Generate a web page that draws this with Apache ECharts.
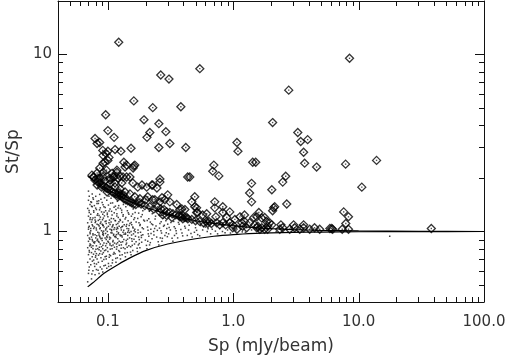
<!DOCTYPE html>
<html>
<head>
<meta charset="utf-8">
<script src="https://cdn.jsdelivr.net/npm/echarts/dist/echarts.min.js"></script>
<style>
html, body { margin: 0; padding: 0; background: #fff; }
#chart { width: 508px; height: 355px; }
</style>
</head>
<body>
<div id="chart"></div>
<script>
// tick positions
var xMajor = [0.1, 1, 10, 100];
var xMinor = [0.05, 0.06, 0.07, 0.08, 0.09, 0.2, 0.3, 0.4, 0.5, 0.6, 0.7, 0.8, 0.9,
              2, 3, 4, 5, 6, 7, 8, 9, 20, 30, 40, 50, 60, 70, 80, 90];
var yMajor = [1, 10];
var yMinor = [0.5, 0.6, 0.7, 0.8, 0.9, 2, 3, 4, 5, 6, 7, 8, 9];

// envelope curves
var upperCurve = [[0.069, 2.05], [0.075, 1.97], [0.08, 1.9], [0.09, 1.8], [0.1, 1.72], [0.12, 1.6],
                  [0.15, 1.48], [0.2, 1.37], [0.3, 1.25], [0.5, 1.15], [0.7, 1.11], [1.0, 1.075],
                  [1.5, 1.05], [2, 1.037], [3, 1.025], [5, 1.015], [10, 1.008], [30, 1.003], [100, 1.0]];
var lowerCurve = [[0.069, 0.487], [0.075, 0.51], [0.08, 0.53], [0.09, 0.57], [0.1, 0.6], [0.12, 0.65],
                  [0.15, 0.71], [0.2, 0.78], [0.3, 0.85], [0.5, 0.91], [0.7, 0.94], [1.0, 0.96],
                  [1.5, 0.975], [2, 0.982], [3, 0.988], [5, 0.993], [10, 0.997], [30, 0.999], [100, 1.0]];

// resolved sources (diamonds)
var diamonds = [
  [0.122, 11.7], [0.264, 7.64], [0.307, 7.25], [0.541, 8.3], [0.096, 4.56], [0.161, 5.46], [0.228, 5.0],
  [0.382, 5.06], [0.194, 4.27], [0.255, 4.06], [0.1, 3.71], [0.216, 3.62], [0.205, 3.4], [0.29, 3.66],
  [0.112, 3.4], [0.079, 3.35], [0.086, 3.18], [0.082, 3.14], [0.312, 3.14], [0.418, 2.98], [0.255, 2.98],
  [0.153, 2.95], [0.127, 2.84], [0.114, 2.9], [0.1, 2.84], [1.07, 3.18], [1.09, 2.84], [0.70, 2.37],
  [0.686, 2.19], [0.767, 2.06], [0.433, 2.03], [0.45, 2.03], [1.43, 2.46], [0.134, 2.46], [0.161, 2.34],
  [0.137, 2.31], [8.46, 9.5], [2.77, 6.28], [2.06, 4.12], [3.27, 3.62], [3.45, 3.22], [3.92, 3.3],
  [3.64, 2.8], [1.51, 2.46], [3.71, 2.43], [4.62, 2.31], [7.87, 2.4], [13.9, 2.52], [2.62, 2.05],
  [10.6, 1.78], [2.03, 1.72], [2.48, 1.9], [2.67, 1.43], [2.1, 1.36], [2.06, 1.31], [7.6, 1.29],
  [8.3, 1.21], [7.9, 1.11], [8.3, 1.03], [6.1, 1.04], [6.2, 1.03], [4.45, 1.05], [3.64, 1.09],
  [3.64, 1.05], [3.03, 1.09], [3.09, 1.05], [2.4, 1.09], [2.48, 1.05], [38, 1.04], [1.40, 1.87],
  [1.35, 1.65], [1.40, 1.47], [0.493, 1.57], [0.467, 1.47], [0.493, 1.38], [0.389, 1.34], [0.712, 1.47],
  [0.712, 1.36], [0.825, 1.38], [0.825, 1.28], [0.614, 1.26], [0.726, 1.21], [0.51, 1.28], [0.426, 1.2],
  [0.396, 1.18], [0.375, 1.21], [0.614, 1.14], [0.626, 1.11], [0.738, 1.12], [0.825, 1.12], [0.938, 1.12],
  [0.99, 1.09], [1.17, 1.12], [1.23, 1.14], [1.35, 1.12], [1.48, 1.09], [1.57, 1.07], [1.69, 1.05],
  [1.6, 1.28], [1.54, 1.21], [1.46, 1.2], [1.78, 1.2], [1.95, 1.12], [2.03, 1.09], [1.88, 1.07],
  [2.14, 1.38], [1.63, 1.03], [1.78, 1.03], [1.88, 1.03], [1.54, 1.05], [1.19, 1.07], [1.28, 1.05],
  [0.99, 1.05], [1.07, 1.03], [0.228, 1.83], [0.26, 1.9], [0.237, 1.51], [0.27, 1.55], [0.30, 1.61],
  [0.285, 1.51], [0.375, 1.33], [0.51, 1.36], [0.52, 1.28], [0.64, 1.14],
  [0.102, 2.62], [0.0915, 2.69], [0.0967, 2.76], [0.091, 2.87], [0.0945, 2.46], [0.1, 2.52],
  [0.141, 2.37], [0.164, 2.37], [0.159, 2.28], [0.086, 2.28], [0.0915, 2.16], [0.0975, 2.22],
  [0.108, 2.13], [0.118, 2.16], [0.125, 2.05], [0.0764, 2.03], [0.0838, 2.0], [0.0915, 2.03],
  [0.104, 2.0], [0.11, 2.03], [0.132, 2.03], [0.15, 2.03], [0.26, 1.98], [0.0915, 2.43], [0.082, 2.14],
  [0.0746, 2.08], [0.0775, 2.03], [0.118, 2.22], [0.112, 2.03], [0.12, 2.0], [0.104, 1.95],
  [0.114, 1.88], [0.129, 1.88], [0.141, 2.03], [0.158, 1.88], [0.173, 1.78], [0.187, 1.83],
  [0.204, 1.78], [0.224, 1.83], [0.246, 1.76],
  [0.0788, 1.95], [0.0832, 1.9], [0.0863, 1.88], [0.0895, 1.83], [0.093, 1.81], [0.0967, 1.76],
  [0.1, 1.74], [0.104, 1.72], [0.108, 1.67], [0.112, 1.65], [0.116, 1.63], [0.12, 1.61], [0.125, 1.59],
  [0.13, 1.57], [0.134, 1.53], [0.139, 1.51], [0.144, 1.49], [0.15, 1.47], [0.155, 1.45], [0.161, 1.43],
  [0.167, 1.42], [0.0863, 2.0], [0.0946, 1.93], [0.104, 1.86], [0.114, 1.78], [0.125, 1.74],
  [0.137, 1.67], [0.15, 1.63], [0.164, 1.57], [0.18, 1.53], [0.122, 1.65], [0.127, 1.63], [0.12, 1.57],
  [0.132, 1.61], [0.082, 1.83], [0.089, 1.78], [0.0986, 1.67],
  [0.208, 1.57], [0.228, 1.51], [0.26, 1.47], [0.312, 1.47], [0.354, 1.42], [0.411, 1.33], [0.25, 1.38],
  [0.265, 1.34], [0.28, 1.33], [0.295, 1.29], [0.312, 1.28], [0.33, 1.26], [0.348, 1.24], [0.368, 1.23],
  [0.389, 1.21], [0.411, 1.2], [0.434, 1.18], [0.26, 1.29], [0.274, 1.24], [0.295, 1.23], [0.324, 1.2],
  [0.467, 1.17], [0.50, 1.15], [0.54, 1.14], [0.58, 1.12], [0.67, 1.11], [0.78, 1.09], [0.87, 1.09],
  [0.184, 1.43], [0.197, 1.4], [0.216, 1.38], [0.232, 1.34], [0.176, 1.45], [0.2, 1.51],
  [0.57, 1.24], [0.887, 1.2], [1.03, 1.17], [1.13, 1.21], [0.938, 1.29], [1.23, 1.24], [1.69, 1.19],
  [1.84, 1.14], [2.35, 1.03], [2.82, 1.03], [3.39, 1.03], [4.07, 1.03], [4.89, 1.03], [5.9, 1.04],
  [7.4, 1.03]
];

// unresolved sources (dots)
var dots = [
  [0.069, 0.52], [0.070, 0.58], [0.071, 0.63], [0.069, 0.67], [0.072, 0.70], [0.070, 0.74], [0.071, 0.78],
  [0.069, 0.81], [0.072, 0.85], [0.070, 0.88], [0.071, 0.92], [0.069, 0.95], [0.072, 0.99], [0.070, 1.03],
  [0.071, 1.07], [0.069, 1.12], [0.072, 1.17], [0.070, 1.22], [0.071, 1.28], [0.069, 1.35], [0.072, 1.42],
  [0.070, 1.50], [0.071, 1.58], [0.070, 1.69],
  [0.074, 0.54], [0.076, 0.60], [0.073, 0.65], [0.077, 0.69], [0.075, 0.72], [0.074, 0.76], [0.076, 0.80],
  [0.073, 0.84], [0.077, 0.87], [0.075, 0.90], [0.074, 0.93], [0.076, 0.97], [0.073, 1.01], [0.077, 1.04],
  [0.075, 1.09], [0.074, 1.13], [0.076, 1.19], [0.073, 1.25], [0.077, 1.31], [0.075, 1.38], [0.074, 1.46],
  [0.076, 1.55], [0.075, 1.63], [0.073, 1.04], [0.076, 0.83],
  [0.079, 0.57], [0.081, 0.61], [0.078, 0.66], [0.082, 0.70], [0.080, 0.73], [0.079, 0.77], [0.083, 0.80],
  [0.081, 0.83], [0.078, 0.86], [0.082, 0.89], [0.080, 0.92], [0.079, 0.96], [0.083, 0.99], [0.081, 1.02],
  [0.078, 1.06], [0.082, 1.10], [0.080, 1.14], [0.079, 1.20], [0.083, 1.26], [0.081, 1.33], [0.078, 1.40],
  [0.082, 1.48], [0.080, 1.58], [0.081, 0.75], [0.079, 1.16],
  [0.085, 0.58], [0.087, 0.63], [0.084, 0.67], [0.088, 0.71], [0.086, 0.75], [0.085, 0.79], [0.089, 0.82],
  [0.087, 0.85], [0.084, 0.88], [0.088, 0.91], [0.086, 0.94], [0.085, 0.98], [0.089, 1.01], [0.087, 1.05],
  [0.084, 1.09], [0.088, 1.13], [0.086, 1.17], [0.085, 1.23], [0.089, 1.29], [0.087, 1.36], [0.084, 1.44],
  [0.088, 1.52], [0.086, 1.62], [0.085, 0.87], [0.087, 1.11],
  [0.091, 0.59], [0.093, 0.64], [0.090, 0.68], [0.095, 0.72], [0.092, 0.76], [0.091, 0.80], [0.096, 0.83],
  [0.093, 0.86], [0.090, 0.89], [0.095, 0.92], [0.092, 0.95], [0.091, 0.99], [0.096, 1.02], [0.093, 1.06],
  [0.090, 1.10], [0.095, 1.14], [0.092, 1.19], [0.091, 1.25], [0.096, 1.31], [0.093, 1.38], [0.090, 1.46],
  [0.094, 1.55], [0.092, 0.97], [0.094, 0.78], [0.091, 1.08],
  [0.098, 0.62], [0.101, 0.66], [0.097, 0.70], [0.103, 0.74], [0.100, 0.77], [0.099, 0.81], [0.104, 0.84],
  [0.101, 0.87], [0.097, 0.90], [0.103, 0.93], [0.100, 0.96], [0.099, 1.00], [0.104, 1.03], [0.101, 1.07],
  [0.097, 1.11], [0.103, 1.16], [0.100, 1.21], [0.099, 1.27], [0.104, 1.34], [0.101, 1.41], [0.098, 1.50],
  [0.102, 1.58], [0.100, 0.88], [0.102, 1.12], [0.098, 0.94],
  [0.106, 0.64], [0.109, 0.69], [0.105, 0.73], [0.112, 0.76], [0.108, 0.80], [0.107, 0.83], [0.113, 0.86],
  [0.110, 0.89], [0.105, 0.92], [0.111, 0.95], [0.108, 0.98], [0.107, 1.01], [0.113, 1.05], [0.110, 1.09],
  [0.106, 1.13], [0.111, 1.18], [0.108, 1.24], [0.107, 1.30], [0.112, 1.37], [0.109, 1.45], [0.106, 1.54],
  [0.110, 0.84], [0.108, 1.06],
  [0.116, 0.67], [0.119, 0.71], [0.114, 0.75], [0.122, 0.78], [0.118, 0.82], [0.117, 0.85], [0.123, 0.88],
  [0.120, 0.91], [0.115, 0.94], [0.121, 0.97], [0.118, 1.00], [0.117, 1.03], [0.123, 1.07], [0.120, 1.11],
  [0.115, 1.15], [0.121, 1.20], [0.118, 1.26], [0.116, 1.33], [0.122, 1.40], [0.119, 1.48], [0.117, 0.96],
  [0.120, 1.04],
  [0.126, 0.70], [0.130, 0.74], [0.124, 0.77], [0.133, 0.81], [0.128, 0.84], [0.127, 0.87], [0.134, 0.90],
  [0.130, 0.93], [0.125, 0.96], [0.132, 0.99], [0.128, 1.02], [0.127, 1.05], [0.135, 1.09], [0.131, 1.13],
  [0.125, 1.17], [0.132, 1.22], [0.129, 1.28], [0.126, 1.35], [0.133, 1.42], [0.129, 0.95], [0.131, 1.07],
  [0.138, 0.72], [0.143, 0.76], [0.137, 0.80], [0.147, 0.83], [0.141, 0.86], [0.140, 0.89], [0.149, 0.92],
  [0.144, 0.95], [0.138, 0.98], [0.146, 1.01], [0.142, 1.04], [0.140, 1.07], [0.150, 1.11], [0.145, 1.15],
  [0.139, 1.20], [0.147, 1.25], [0.143, 1.31], [0.139, 1.38], [0.144, 0.99], [0.148, 1.08],
  [0.153, 0.74], [0.158, 0.78], [0.152, 0.82], [0.163, 0.85], [0.156, 0.88], [0.155, 0.91], [0.166, 0.94],
  [0.160, 0.97], [0.153, 1.00], [0.164, 1.03], [0.158, 1.06], [0.155, 1.09], [0.168, 1.13], [0.161, 1.17],
  [0.154, 1.22], [0.165, 1.28], [0.159, 1.34], [0.162, 1.01],
  [0.172, 0.77], [0.180, 0.81], [0.175, 0.84], [0.186, 0.87], [0.178, 0.90], [0.176, 0.93], [0.190, 0.96],
  [0.182, 0.99], [0.174, 1.02], [0.188, 1.05], [0.180, 1.08], [0.177, 1.12], [0.193, 1.16], [0.184, 1.21],
  [0.176, 1.27], [0.190, 1.31], [0.185, 0.95],
  [0.205, 0.80], [0.215, 0.84], [0.208, 0.88], [0.225, 0.91], [0.212, 0.94], [0.210, 0.97], [0.232, 1.00],
  [0.220, 1.03], [0.207, 1.06], [0.228, 1.09], [0.218, 1.13], [0.212, 1.18], [0.240, 1.22], [0.226, 1.26],
  [0.214, 1.30], [0.245, 0.93], [0.236, 1.04],
  [0.255, 0.84], [0.270, 0.88], [0.262, 0.92], [0.285, 0.95], [0.268, 0.98], [0.265, 1.01], [0.295, 1.04],
  [0.278, 1.07], [0.260, 1.11], [0.290, 1.15], [0.275, 1.19], [0.268, 1.23], [0.305, 0.97], [0.315, 1.02],
  [0.300, 1.10],
  [0.33, 0.88], [0.36, 0.92], [0.34, 0.95], [0.39, 0.98], [0.35, 1.01], [0.345, 1.04], [0.41, 1.07],
  [0.37, 1.10], [0.335, 1.14], [0.40, 1.17], [0.43, 0.95], [0.44, 1.02],
  [0.47, 0.93], [0.52, 0.96], [0.49, 0.99], [0.57, 1.02], [0.50, 1.05], [0.55, 1.08], [0.62, 1.00],
  [0.66, 0.97], [0.60, 1.06], [0.68, 1.03],
  [0.75, 0.97], [0.82, 1.00], [0.90, 1.02], [0.78, 1.04], [0.95, 0.98], [1.05, 1.01], [1.15, 1.03],
  [1.25, 0.99], [1.40, 1.02],
  [2.9, 0.99], [3.3, 1.0], [17.7, 0.94],
  [0.0705, 0.605], [0.0712, 0.765], [0.0718, 0.905], [0.0702, 1.055], [0.0725, 1.195], [0.0708, 1.315],
  [0.0731, 1.47], [0.0715, 0.83], [0.0722, 0.97],
  [0.0745, 0.575], [0.0752, 0.68], [0.0768, 0.745], [0.0739, 0.815], [0.0761, 0.955], [0.0757, 1.075],
  [0.0748, 1.165], [0.0772, 1.285], [0.0741, 1.39], [0.0766, 1.52], [0.0755, 0.885],
  [0.0785, 0.635], [0.0796, 0.715], [0.0803, 0.795], [0.0788, 0.875], [0.0815, 0.945], [0.0808, 1.045],
  [0.0792, 1.125], [0.0822, 1.235], [0.0799, 1.355], [0.0818, 1.44], [0.0827, 0.905], [0.0811, 0.655],
  [0.0835, 0.605], [0.0842, 0.735], [0.0856, 0.815], [0.0849, 0.955], [0.0863, 1.035], [0.0838, 1.155],
  [0.0871, 1.205], [0.0858, 1.325], [0.0845, 1.49], [0.0878, 0.775], [0.0866, 0.925], [0.0852, 1.075],
  [0.0895, 0.615], [0.0902, 0.745], [0.0912, 0.835], [0.0898, 0.915], [0.0925, 1.005], [0.0918, 1.085],
  [0.0906, 1.165], [0.0932, 1.285], [0.0915, 1.415], [0.0928, 0.695], [0.0909, 0.965], [0.0938, 1.225],
  [0.0955, 0.645], [0.0962, 0.785], [0.0975, 0.855], [0.0958, 0.975], [0.0981, 1.055], [0.0968, 1.145],
  [0.0989, 1.245], [0.0952, 1.365], [0.0972, 0.725], [0.0985, 0.925], [0.0964, 1.035],
  [0.1015, 0.635], [0.1025, 0.715], [0.1045, 0.795], [0.1032, 0.905], [0.1058, 0.985], [0.1041, 1.095],
  [0.1065, 1.185], [0.1022, 1.305], [0.1052, 1.445], [0.1038, 0.855], [0.1071, 1.025],
  [0.1085, 0.665], [0.1105, 0.745], [0.1128, 0.815], [0.1095, 0.875], [0.1135, 0.935], [0.1118, 1.025],
  [0.1092, 1.075], [0.1142, 1.155], [0.1124, 1.275], [0.1148, 1.39], [0.1112, 0.965],
  [0.1155, 0.705], [0.1172, 0.795], [0.1195, 0.865], [0.1162, 0.925], [0.1215, 0.985], [0.1188, 1.055],
  [0.1225, 1.135], [0.1178, 1.225], [0.1205, 1.355], [0.1232, 0.835], [0.1168, 1.095],
  [0.1245, 0.735], [0.1275, 0.805], [0.1312, 0.875], [0.1262, 0.945], [0.1338, 1.015], [0.1295, 1.065],
  [0.1258, 1.155], [0.1325, 1.245], [0.1288, 1.32], [0.1345, 0.965],
  [0.1365, 0.755], [0.1395, 0.845], [0.1435, 0.905], [0.1382, 0.965], [0.1465, 1.035], [0.1412, 1.095],
  [0.1372, 1.175], [0.1455, 1.275], [0.1425, 0.815], [0.1488, 0.985],
  [0.1515, 0.765], [0.1565, 0.835], [0.1615, 0.905], [0.1545, 0.955], [0.1655, 0.995], [0.1588, 1.045],
  [0.1535, 1.125], [0.1635, 1.195], [0.1575, 1.255], [0.1678, 0.875],
  [0.171, 0.805], [0.178, 0.855], [0.185, 0.925], [0.174, 0.985], [0.192, 1.035], [0.181, 1.095],
  [0.196, 1.145], [0.173, 1.185], [0.188, 1.245], [0.199, 0.895],
  [0.203, 0.835], [0.218, 0.865], [0.233, 0.955], [0.209, 1.015], [0.242, 1.075], [0.223, 1.105],
  [0.206, 1.155], [0.238, 1.175], [0.221, 0.975], [0.248, 1.015],
  [0.252, 0.875], [0.272, 0.915], [0.292, 0.985], [0.258, 1.045], [0.282, 1.085], [0.266, 1.135],
  [0.308, 1.055], [0.298, 0.935], [0.318, 1.125],
  [0.325, 0.915], [0.352, 0.975], [0.382, 1.025], [0.338, 1.065], [0.365, 1.125], [0.395, 0.945],
  [0.415, 1.045], [0.445, 1.085],
  [0.46, 0.975], [0.51, 1.015], [0.54, 0.945], [0.58, 1.065], [0.63, 1.035], [0.72, 1.005], [0.86, 0.985],
  [1.02, 1.035], [1.18, 0.995], [1.6, 1.01], [2.2, 1.0]
];

var FONT = 'DejaVu Sans';
var INK = '#111';
var TEXT = '#333';

function isDecade(v) {
  var e = Math.log(v) / Math.LN10;
  return Math.abs(e - Math.round(e)) < 1e-6;
}

var chart = echarts.init(document.getElementById('chart'), null, { renderer: 'canvas' });

var baseX = { type: 'log', logBase: 10, min: 0.04, max: 100, splitLine: { show: false },
              axisTick: { show: false }, axisLine: { show: true, onZero: false, lineStyle: { color: INK, width: 1 } } };
var baseY = { type: 'log', logBase: 10, min: 0.4, max: 20, splitLine: { show: false },
              axisTick: { show: false }, axisLine: { show: true, onZero: false, lineStyle: { color: INK, width: 1 } } };

var option = {
  backgroundColor: '#fff',
  animation: false,
  grid: { left: 58, right: 24, top: 1, bottom: 53, containLabel: false, outerBoundsMode: 'none' },
  xAxis: [
    Object.assign({}, baseX, {
      position: 'bottom',
      name: 'Sp (mJy/beam)',
      nameLocation: 'middle',
      nameGap: 36,
      nameTextStyle: { fontFamily: FONT, fontSize: 17, color: TEXT },
      axisLabel: {
        margin: 13, fontFamily: FONT, fontSize: 15, color: TEXT,
        formatter: function (v) { return isDecade(v) ? v.toFixed(1) : ''; }
      }
    }),
    Object.assign({}, baseX, { position: 'top', axisLabel: { show: false } })
  ],
  yAxis: [
    Object.assign({}, baseY, {
      position: 'left',
      name: 'St/Sp',
      nameLocation: 'middle',
      nameGap: 36,
      nameTextStyle: { fontFamily: FONT, fontSize: 17, color: TEXT },
      axisLabel: {
        margin: 6, fontFamily: FONT, fontSize: 15, color: TEXT,
        formatter: function (v) { return isDecade(v) && v >= 1 ? String(Math.round(v)) : ''; }
      }
    }),
    Object.assign({}, baseY, { position: 'right', axisLabel: { show: false } })
  ],
  series: [
    {
      type: 'scatter', name: 'dots', data: dots, symbol: 'rect', symbolSize: 1.5,
      itemStyle: { color: '#111' }, silent: true
    },
    {
      type: 'scatter', name: 'centres', data: diamonds, symbol: 'rect', symbolSize: 1.4,
      itemStyle: { color: '#222' }, silent: true
    },
    {
      type: 'scatter', name: 'resolved', data: diamonds, symbol: 'diamond', symbolSize: 8,
      itemStyle: { color: 'rgba(0,0,0,0)', borderColor: '#000', borderWidth: 1.3 }, silent: true
    },
    {
      type: 'line', name: 'upper', data: upperCurve, showSymbol: false, smooth: 0.3,
      lineStyle: { color: '#000', width: 1.2 }, silent: true
    },
    {
      type: 'line', name: 'lower', data: lowerCurve, showSymbol: false, smooth: 0.3,
      lineStyle: { color: '#000', width: 1.2 }, silent: true
    }
  ]
};

chart.setOption(option);

// inward ticks on all four sides, placed with the axes' own scales
var px0 = chart.convertToPixel({ xAxisIndex: 0 }, 0.04);
var px1 = chart.convertToPixel({ xAxisIndex: 0 }, 100);
var pyB = chart.convertToPixel({ yAxisIndex: 0 }, 0.4);
var pyT = chart.convertToPixel({ yAxisIndex: 0 }, 20);
var tickStyle = { stroke: INK, lineWidth: 1 };
var ticks = [];
xMajor.concat(xMinor).forEach(function (v) {
  var x = Math.round(chart.convertToPixel({ xAxisIndex: 0 }, v)) + 0.5;
  var len = isDecade(v) ? 9 : 5;
  ticks.push({ type: 'line', silent: true, shape: { x1: x, y1: pyB, x2: x, y2: pyB - len }, style: tickStyle });
  ticks.push({ type: 'line', silent: true, shape: { x1: x, y1: pyT, x2: x, y2: pyT + len }, style: tickStyle });
});
yMajor.concat(yMinor).forEach(function (v) {
  var y = Math.round(chart.convertToPixel({ yAxisIndex: 0 }, v)) + 0.5;
  var len = isDecade(v) ? 9 : 5;
  ticks.push({ type: 'line', silent: true, shape: { x1: px0, y1: y, x2: px0 + len, y2: y }, style: tickStyle });
  ticks.push({ type: 'line', silent: true, shape: { x1: px1, y1: y, x2: px1 - len, y2: y }, style: tickStyle });
});
chart.setOption({ graphic: { elements: ticks } });
</script>
</body>
</html>
